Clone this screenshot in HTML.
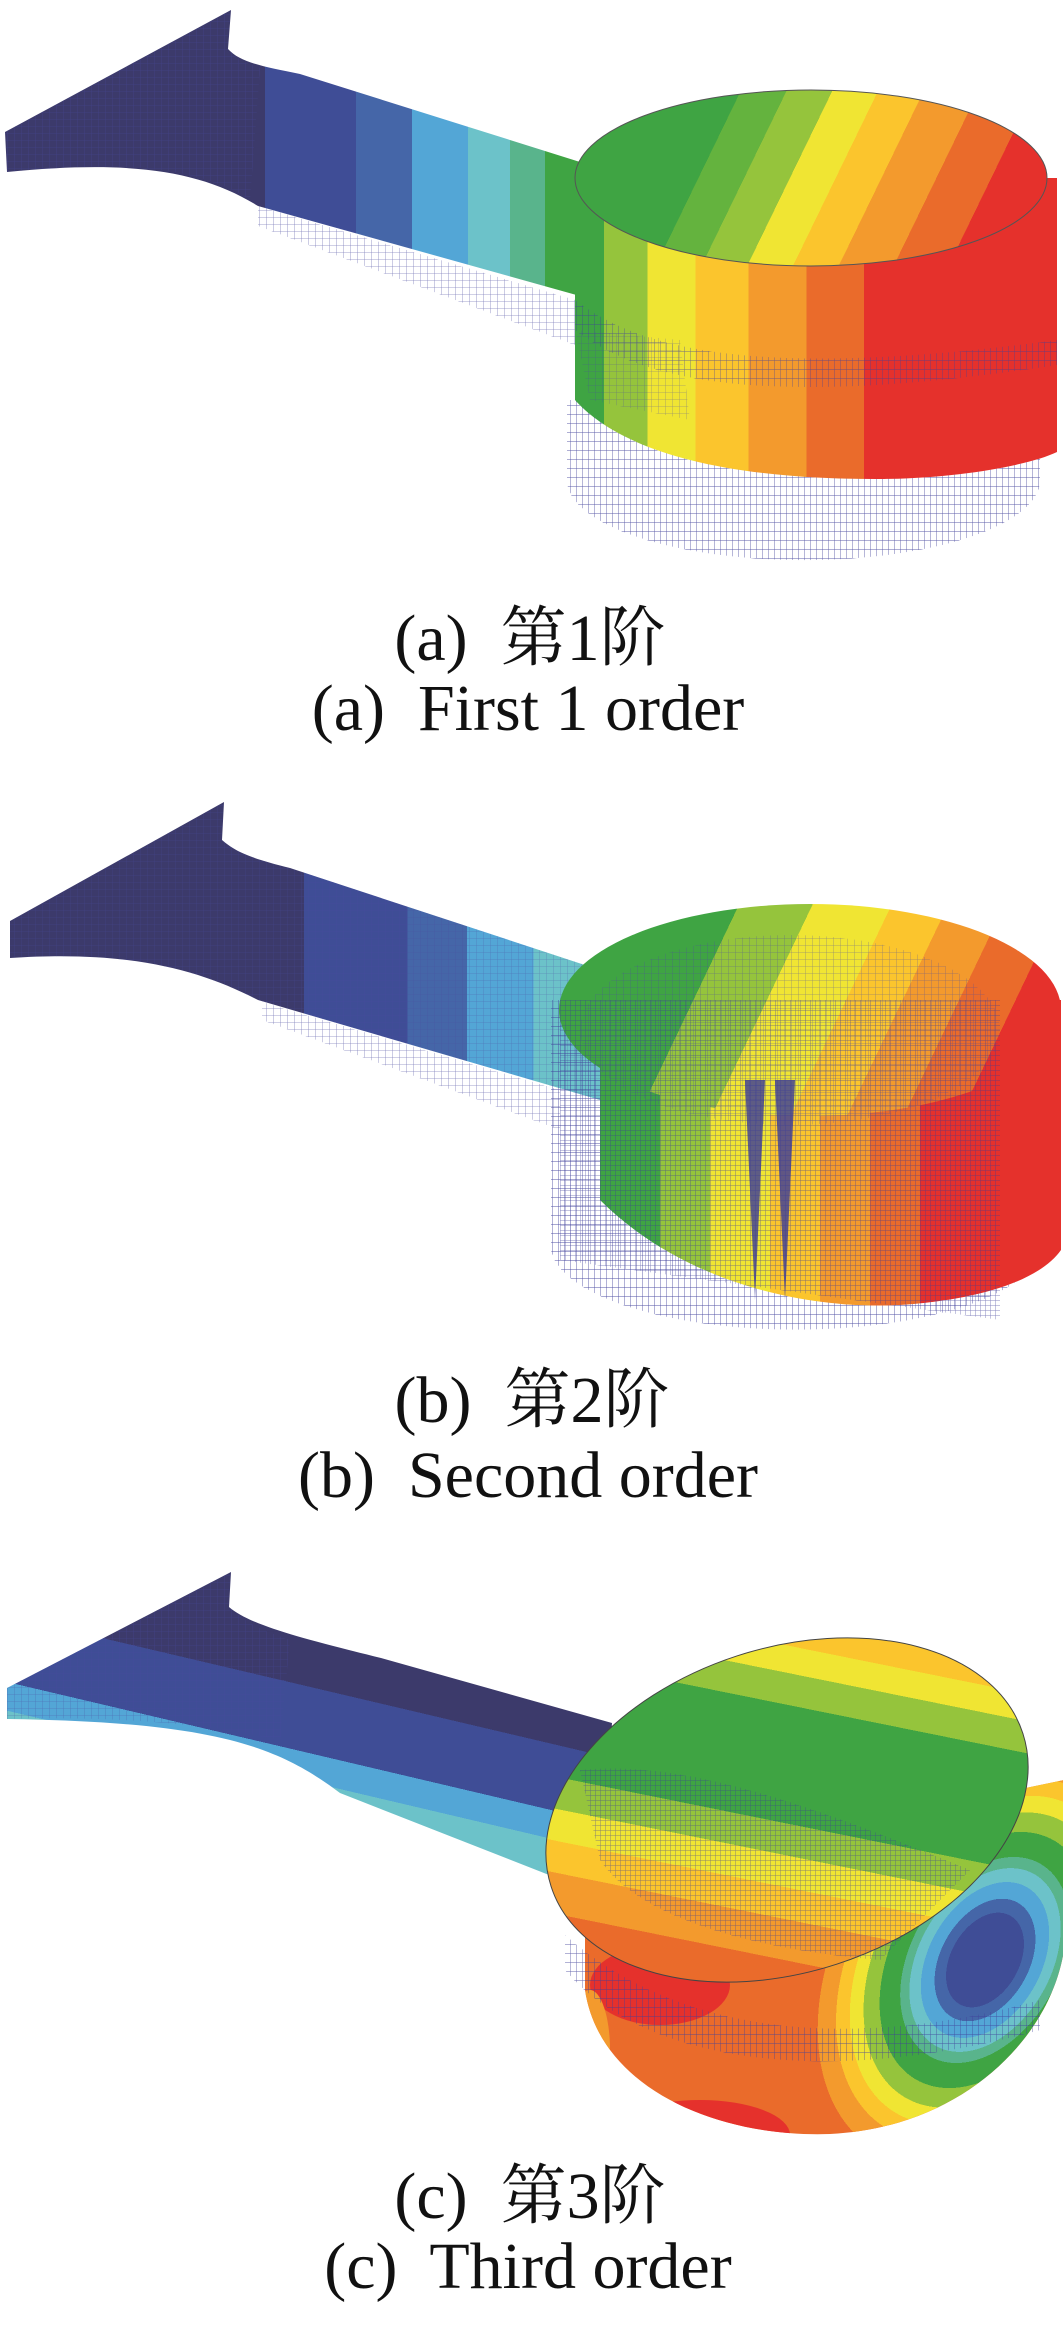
<!DOCTYPE html>
<html><head><meta charset="utf-8"><style>
html,body{margin:0;padding:0;background:#fff}
svg{display:block}
.cap{font-family:"Liberation Serif","Noto Serif CJK SC",serif;font-size:66px;fill:#111;text-anchor:middle}
</style></head><body>
<svg width="1063" height="2352" viewBox="0 0 1063 2352" xmlns="http://www.w3.org/2000/svg">
<defs>
<pattern id="mesh" width="7" height="7" patternUnits="userSpaceOnUse">
<path d="M0 0H7M0 0V7" stroke="#4a4aa0" stroke-width="0.8" fill="none"/></pattern>
<pattern id="meshv" width="6" height="9" patternUnits="userSpaceOnUse">
<path d="M0 0V9M0 0H6" stroke="#3f3f9a" stroke-width="0.9" fill="none"/></pattern>
<pattern id="meshd" width="5" height="5" patternUnits="userSpaceOnUse">
<path d="M0 0V5M0 0H5" stroke="#3a3a98" stroke-width="1" fill="none"/></pattern>
<linearGradient id="beamA" gradientUnits="userSpaceOnUse" x1="230" y1="0" x2="580" y2="0">
<stop offset="0" stop-color="#3c3a6b"/><stop offset=".1" stop-color="#3c3a6b"/>
<stop offset=".1" stop-color="#3f4d96"/><stop offset=".36" stop-color="#3f4d96"/>
<stop offset=".36" stop-color="#4566a8"/><stop offset=".52" stop-color="#4566a8"/>
<stop offset=".52" stop-color="#53a6d6"/><stop offset=".68" stop-color="#53a6d6"/>
<stop offset=".68" stop-color="#6cc2c9"/><stop offset=".8" stop-color="#6cc2c9"/>
<stop offset=".8" stop-color="#59b48c"/><stop offset=".9" stop-color="#59b48c"/>
<stop offset=".9" stop-color="#3fa443"/><stop offset="1" stop-color="#3fa443"/>
</linearGradient>
<linearGradient id="beamB" gradientUnits="userSpaceOnUse" x1="230" y1="0" x2="600" y2="0">
<stop offset="0" stop-color="#3c3a6b"/><stop offset=".2" stop-color="#3c3a6b"/>
<stop offset=".2" stop-color="#3f4d96"/><stop offset=".48" stop-color="#3f4d96"/>
<stop offset=".48" stop-color="#4566a8"/><stop offset=".64" stop-color="#4566a8"/>
<stop offset=".64" stop-color="#53a6d6"/><stop offset=".82" stop-color="#53a6d6"/>
<stop offset=".82" stop-color="#6cc2c9"/><stop offset="1" stop-color="#6cc2c9"/>
</linearGradient>
<linearGradient id="beamC" gradientUnits="userSpaceOnUse" x1="420" y1="1650" x2="380" y2="1820">
<stop offset="0" stop-color="#3c3a6b"/><stop offset=".35" stop-color="#3c3a6b"/>
<stop offset=".35" stop-color="#3f4d96"/><stop offset=".72" stop-color="#3f4d96"/>
<stop offset=".72" stop-color="#53a6d6"/><stop offset=".88" stop-color="#53a6d6"/>
<stop offset=".88" stop-color="#6cc2c9"/><stop offset="1" stop-color="#6cc2c9"/>
</linearGradient>
<linearGradient id="sideA" gradientUnits="userSpaceOnUse" x1="575" y1="0" x2="1057" y2="0">
<stop offset="0" stop-color="#3fa443"/><stop offset=".06" stop-color="#3fa443"/>
<stop offset=".06" stop-color="#95c43c"/><stop offset=".15" stop-color="#95c43c"/>
<stop offset=".15" stop-color="#f0e533"/><stop offset=".25" stop-color="#f0e533"/>
<stop offset=".25" stop-color="#fbc52d"/><stop offset=".36" stop-color="#fbc52d"/>
<stop offset=".36" stop-color="#f39a2d"/><stop offset=".48" stop-color="#f39a2d"/>
<stop offset=".48" stop-color="#ea6b2b"/><stop offset=".6" stop-color="#ea6b2b"/>
<stop offset=".6" stop-color="#e5312c"/><stop offset="1" stop-color="#e5312c"/>
</linearGradient>
<linearGradient id="topA" gradientUnits="userSpaceOnUse" x1="640" y1="110" x2="1010" y2="290">
<stop offset="0" stop-color="#3fa443"/><stop offset=".2" stop-color="#3fa443"/>
<stop offset=".2" stop-color="#64b33e"/><stop offset=".3" stop-color="#64b33e"/>
<stop offset=".3" stop-color="#95c43c"/><stop offset=".4" stop-color="#95c43c"/>
<stop offset=".4" stop-color="#f0e533"/><stop offset=".5" stop-color="#f0e533"/>
<stop offset=".5" stop-color="#fbc52d"/><stop offset=".6" stop-color="#fbc52d"/>
<stop offset=".6" stop-color="#f39a2d"/><stop offset=".72" stop-color="#f39a2d"/>
<stop offset=".72" stop-color="#ea6b2b"/><stop offset=".84" stop-color="#ea6b2b"/>
<stop offset=".84" stop-color="#e5312c"/><stop offset="1" stop-color="#e5312c"/>
</linearGradient>
<linearGradient id="topB" gradientUnits="userSpaceOnUse" x1="600" y1="900" x2="1060" y2="1120">
<stop offset="0" stop-color="#3fa443"/><stop offset=".25" stop-color="#3fa443"/>
<stop offset=".25" stop-color="#95c43c"/><stop offset=".38" stop-color="#95c43c"/>
<stop offset=".38" stop-color="#f0e533"/><stop offset=".52" stop-color="#f0e533"/>
<stop offset=".52" stop-color="#fbc52d"/><stop offset=".62" stop-color="#fbc52d"/>
<stop offset=".62" stop-color="#f39a2d"/><stop offset=".72" stop-color="#f39a2d"/>
<stop offset=".72" stop-color="#ea6b2b"/><stop offset=".82" stop-color="#ea6b2b"/>
<stop offset=".82" stop-color="#e5312c"/><stop offset="1" stop-color="#e5312c"/>
</linearGradient>
<linearGradient id="sideB" gradientUnits="userSpaceOnUse" x1="560" y1="0" x2="1060" y2="0">
<stop offset="0" stop-color="#3fa443"/><stop offset=".2" stop-color="#3fa443"/>
<stop offset=".2" stop-color="#95c43c"/><stop offset=".3" stop-color="#95c43c"/>
<stop offset=".3" stop-color="#f0e533"/><stop offset=".42" stop-color="#f0e533"/>
<stop offset=".42" stop-color="#fbc52d"/><stop offset=".52" stop-color="#fbc52d"/>
<stop offset=".52" stop-color="#f39a2d"/><stop offset=".62" stop-color="#f39a2d"/>
<stop offset=".62" stop-color="#ea6b2b"/><stop offset=".72" stop-color="#ea6b2b"/>
<stop offset=".72" stop-color="#e5312c"/><stop offset="1" stop-color="#e5312c"/>
</linearGradient>
<linearGradient id="topC" gradientUnits="userSpaceOnUse" x1="970" y1="1620" x2="750" y2="2010">
<stop offset="0" stop-color="#e5312c"/><stop offset=".1" stop-color="#e5312c"/>
<stop offset=".1" stop-color="#ea6b2b"/><stop offset=".15" stop-color="#ea6b2b"/>
<stop offset=".15" stop-color="#fbc52d"/><stop offset=".21" stop-color="#fbc52d"/>
<stop offset=".21" stop-color="#f0e533"/><stop offset=".27" stop-color="#f0e533"/>
<stop offset=".27" stop-color="#95c43c"/><stop offset=".34" stop-color="#95c43c"/>
<stop offset=".34" stop-color="#3fa443"/><stop offset=".6" stop-color="#3fa443"/>
<stop offset=".6" stop-color="#95c43c"/><stop offset=".67" stop-color="#95c43c"/>
<stop offset=".67" stop-color="#f0e533"/><stop offset=".74" stop-color="#f0e533"/>
<stop offset=".74" stop-color="#fbc52d"/><stop offset=".81" stop-color="#fbc52d"/>
<stop offset=".81" stop-color="#f39a2d"/><stop offset=".9" stop-color="#f39a2d"/>
<stop offset=".9" stop-color="#ea6b2b"/><stop offset="1" stop-color="#ea6b2b"/>
</linearGradient>
<radialGradient id="spot" gradientUnits="userSpaceOnUse" cx="0" cy="0" r="1" gradientTransform="translate(985 1960) rotate(-60) scale(300 200)">
<stop offset="0" stop-color="#3f4d96"/><stop offset=".17" stop-color="#3f4d96"/>
<stop offset=".17" stop-color="#4566a8"/><stop offset=".22" stop-color="#4566a8"/>
<stop offset=".22" stop-color="#53a6d6"/><stop offset=".28" stop-color="#53a6d6"/>
<stop offset=".28" stop-color="#6cc2c9"/><stop offset=".33" stop-color="#6cc2c9"/>
<stop offset=".33" stop-color="#59b48c"/><stop offset=".37" stop-color="#59b48c"/>
<stop offset=".37" stop-color="#3fa443"/><stop offset=".46" stop-color="#3fa443"/>
<stop offset=".46" stop-color="#95c43c"/><stop offset=".53" stop-color="#95c43c"/>
<stop offset=".53" stop-color="#f0e533"/><stop offset=".59" stop-color="#f0e533"/>
<stop offset=".59" stop-color="#fbc52d"/><stop offset=".65" stop-color="#fbc52d"/>
<stop offset=".65" stop-color="#f39a2d"/><stop offset=".73" stop-color="#f39a2d"/>
<stop offset=".73" stop-color="#ea6b2b" stop-opacity="0"/><stop offset="1" stop-color="#ea6b2b" stop-opacity="0"/>
</radialGradient>
<clipPath id="bodyClip"><path d="M585,1880 L585,1990 C600,2090 720,2138 830,2134 C960,2128 1050,2040 1064,1950 L1064,1780 Z"/></clipPath>
</defs>

<!-- ===== Panel A ===== -->
<path d="M258,206 L575,300 L575,345 L258,226 Z" fill="url(#mesh)" opacity=".7"/>
<path d="M5,132 L231,10 L228,49 C240,62 260,66 300,74 L580,162 L580,296 L258,206 C200,170 130,160 7,172 Z" fill="url(#beamA)"/>
<path d="M5,132 L231,10 L228,49 C240,62 250,64 260,68 L250,200 C200,168 130,160 7,172 Z" fill="url(#mesh)" opacity=".5"/>
<path d="M567,400 L1040,400 L1040,480 A236,80 0 0 1 567,480 Z" fill="url(#meshv)" opacity=".85"/>
<path d="M575,178 L575,400 C620,450 720,480 884,479 C960,478 1030,465 1057,452 L1057,178 Z" fill="url(#sideA)"/>
<path d="M575,300 C640,350 760,380 1057,340 L1057,365 C760,410 640,380 575,330 Z" fill="url(#meshv)" opacity=".7"/>
<path d="M575,330 L680,340 L690,420 L590,400 Z" fill="url(#mesh)" opacity=".5"/>
<ellipse cx="811" cy="178" rx="236" ry="88" fill="url(#topA)" stroke="#555" stroke-width="1"/>

<text class="cap" x="530" y="660">(a)&#160; 第1阶</text>
<text class="cap" x="528" y="730">(a)&#160; First 1 order</text>

<!-- ===== Panel B ===== -->
<path d="M262,1002 L560,1090 L560,1130 L262,1020 Z" fill="url(#mesh)" opacity=".7"/>
<path d="M10,921 L224,802 L222,840 C236,852 250,858 290,868 L600,970 L600,1100 L258,1000 C200,970 130,950 10,958 Z" fill="url(#beamB)"/>
<path d="M10,921 L224,802 L222,840 C236,852 250,858 290,868 L600,970 L600,1100 L258,1000 C200,970 130,950 10,958 Z" fill="url(#mesh)" opacity=".45"/>
<path d="M551,1000 L1040,1000 L1040,1250 A245,85 0 0 1 551,1250 Z" fill="url(#meshv)" opacity=".9"/>
<path d="M600,1000 L600,1200 C680,1280 800,1310 900,1305 C980,1300 1040,1280 1061,1250 L1061,1000 Z" fill="url(#sideB)"/>
<ellipse cx="810" cy="1010" rx="251" ry="106" fill="url(#topB)"/>
<path d="M560,1000 L1000,1000 L1000,1320 L560,1260 Z" fill="url(#meshd)" opacity=".6"/>
<ellipse cx="790" cy="1030" rx="210" ry="95" fill="url(#mesh)" opacity=".55"/>
<path d="M745,1080 L755,1300 L765,1080 Z M775,1080 L785,1300 L795,1080 Z" fill="#3a3a98" opacity=".8"/>

<text class="cap" x="532" y="1422">(b)&#160; 第2阶</text>
<text class="cap" x="528" y="1497">(b)&#160; Second order</text>

<!-- ===== Panel C ===== -->
<path d="M7,1688 L231,1572 L229,1607 C250,1625 300,1638 381,1658 L612,1723 L600,1895 L340,1793 C280,1748 220,1722 7,1719 Z" fill="url(#beamC)"/>
<path d="M7,1688 L231,1572 L229,1607 C245,1622 260,1630 290,1640 L280,1740 C200,1722 100,1716 7,1719 Z" fill="url(#mesh)" opacity=".5"/>
<g clip-path="url(#bodyClip)">
<rect x="580" y="1770" width="490" height="380" fill="#ea6b2b"/>
<ellipse cx="660" cy="1985" rx="70" ry="40" fill="#e5312c"/>
<ellipse cx="700" cy="2135" rx="90" ry="35" fill="#e5312c"/>
<ellipse cx="590" cy="2050" rx="20" ry="60" fill="#f39a2d"/>
<rect x="580" y="1770" width="490" height="380" fill="url(#spot)"/>
</g>
<path d="M565,1935 C660,2020 820,2060 1040,2000 L1040,2030 C820,2090 640,2060 565,1970 Z" fill="url(#meshv)" opacity=".8"/>
<ellipse cx="787" cy="1810" rx="248" ry="162" transform="rotate(-18 787 1810)" fill="url(#topC)" stroke="#444" stroke-width="1"/>
<path d="M580,1770 C680,1760 800,1800 970,1870 L880,1960 C760,1950 640,1920 600,1860 Z" fill="url(#meshd)" opacity=".55"/>

<text class="cap" x="530" y="2218">(c)&#160; 第3阶</text>
<text class="cap" x="528" y="2288">(c)&#160; Third order</text>
</svg>
</body></html>
